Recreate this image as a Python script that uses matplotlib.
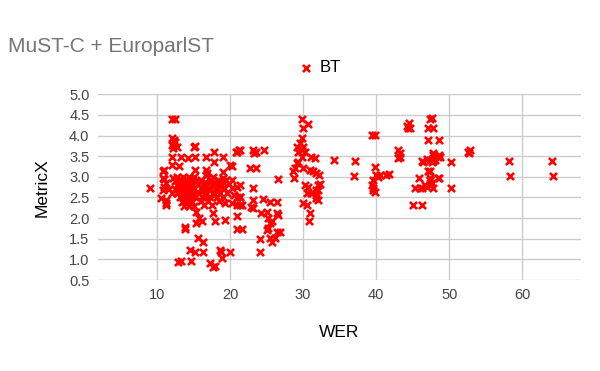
import matplotlib
matplotlib.use("Agg")
import matplotlib.pyplot as plt

plt.rcParams['font.family'] = ['Liberation Sans', 'DejaVu Sans']

# (WER, MetricX) pairs, grouped by region
left_top = [
    (12.0, 4.40), (12.5, 4.40),
    (12.0, 3.95), (12.3, 3.90), (12.1, 3.78), (12.5, 3.85), (12.7, 3.72), (12.2, 3.70),
    (15.2, 3.75), (15.1, 3.72), (17.8, 3.61), (20.8, 3.61), (21.2, 3.65),
    (12.1, 3.49), (13.3, 3.49), (14.3, 3.45), (15.2, 3.49), (16.7, 3.47), (17.8, 3.37),
    (19.0, 3.47), (20.2, 3.26), (20.0, 3.29),
    (10.9, 3.17), (12.1, 3.29), (13.0, 3.27), (15.2, 3.17), (16.7, 3.17), (16.7, 3.05),
    (17.7, 3.00), (19.0, 3.11), (19.0, 2.97), (16.9, 3.10), (20.2, 2.92),
    (10.9, 2.94), (10.9, 2.76), (9.0, 2.72),
    (10.8, 3.13), (10.8, 2.97), (12.2, 2.97), (10.8, 2.68), (11.3, 2.36), (12.0, 2.60),
    (10.6, 2.48), (11.2, 2.45), (11.3, 2.32), (11.6, 2.70), (11.2, 2.85),
]

core = [
    (12.8, 3.00), (13.6, 3.00), (14.4, 3.00), (15.0, 3.00),
    (12.5, 2.90), (13.2, 2.90), (13.9, 2.90), (14.6, 2.90), (15.3, 2.90),
    (12.7, 2.80), (13.4, 2.80), (14.1, 2.80), (14.8, 2.80),
    (12.4, 2.70), (13.0, 2.70), (13.7, 2.70), (14.4, 2.70), (15.1, 2.70),
    (12.8, 2.60), (13.5, 2.60), (14.2, 2.60), (14.9, 2.60),
    (13.1, 2.50), (13.8, 2.50), (14.5, 2.50), (15.2, 2.50),
    (13.4, 2.40), (14.1, 2.40), (14.8, 2.40),
    (13.7, 2.30), (14.4, 2.30), (15.0, 2.30),
    (13.2, 2.95), (14.0, 2.95), (14.8, 2.95),
    (13.0, 2.85), (13.8, 2.85), (14.5, 2.85),
    (13.3, 2.75), (14.0, 2.75), (14.7, 2.75),
    (13.1, 2.65), (13.9, 2.65), (14.6, 2.65),
    (13.5, 2.55), (14.2, 2.55), (14.9, 2.55),
    (13.8, 2.45), (14.5, 2.45),
    (16.0, 2.92), (17.2, 2.92), (18.4, 2.92), (19.5, 2.92),
    (15.6, 2.82), (16.5, 2.82), (17.6, 2.82), (18.8, 2.82), (19.9, 2.82),
    (16.0, 2.72), (17.0, 2.72), (18.1, 2.72), (19.2, 2.72), (20.2, 2.72),
    (15.8, 2.62), (16.7, 2.62), (17.6, 2.62), (18.6, 2.62), (19.6, 2.62),
    (16.2, 2.52), (17.2, 2.52), (18.2, 2.52), (19.0, 2.52),
    (16.0, 2.42), (17.0, 2.42), (18.5, 2.42),
    (16.5, 2.33), (17.5, 2.33),
    (16.6, 2.87), (17.8, 2.87), (19.0, 2.87),
    (16.4, 2.77), (17.5, 2.77), (18.6, 2.77),
    (16.3, 2.67), (17.3, 2.67), (18.3, 2.67),
    (16.6, 2.57), (17.8, 2.57),
]

left_low = [
    (20.9, 2.76), (20.6, 2.56), (20.9, 2.52), (21.3, 2.52), (20.2, 2.36), (21.3, 2.32),
    (20.9, 2.32), (21.6, 2.32), (19.3, 2.37),
    (15.4, 2.16), (15.8, 2.00), (17.7, 2.12), (17.9, 1.92), (19.3, 1.96), (20.9, 2.04),
    (15.4, 1.88), (16.1, 1.92), (13.8, 1.79), (13.8, 1.73),
    (15.6, 1.51), (16.3, 1.43), (14.5, 1.23), (15.2, 1.19), (16.3, 1.19),
    (12.9, 0.95), (13.3, 0.96), (14.7, 0.97), (17.2, 0.91), (17.7, 0.81), (18.0, 0.84),
    (18.8, 1.19), (18.9, 1.03), (20.0, 1.19), (18.6, 1.23),
    (20.9, 1.73), (21.6, 1.73),
]

middle = [
    (20.9, 3.61), (21.4, 3.65), (23.2, 3.65), (23.6, 3.61), (23.3, 3.57), (24.7, 3.65),
    (22.7, 3.21), (23.5, 3.21), (26.6, 2.94), (21.3, 2.80), (23.1, 2.74),
    (21.3, 2.50), (23.2, 2.44), (22.9, 2.28), (24.5, 2.46), (25.4, 2.38), (26.4, 2.38),
    (23.1, 2.25), (24.3, 2.12), (25.0, 2.16), (26.4, 2.12), (26.6, 2.08),
    (25.2, 2.00), (25.4, 1.88), (25.7, 1.92), (25.2, 1.76), (25.0, 1.72),
    (26.4, 1.67), (26.8, 1.67), (25.4, 1.51), (25.7, 1.43), (26.1, 1.51),
    (24.1, 1.49), (24.1, 1.19),
]

around_30 = [
    (29.8, 4.40), (30.6, 4.28), (30.0, 4.18),
    (29.8, 3.93), (29.6, 3.81), (29.1, 3.73), (30.0, 3.73), (29.3, 3.61), (29.8, 3.65),
    (30.2, 3.61), (29.8, 3.49), (31.1, 3.49), (31.6, 3.45),
    (29.3, 3.37), (29.1, 3.33), (28.9, 3.21), (28.6, 3.13), (28.8, 2.97), (30.0, 3.21),
    (30.9, 3.17), (31.4, 3.13), (31.8, 3.09), (32.2, 3.05),
    (30.2, 2.80), (30.7, 2.76), (32.1, 2.80), (32.3, 2.83),
    (31.8, 2.68), (32.1, 2.67), (30.5, 2.60), (31.1, 2.60), (31.8, 2.56),
    (32.1, 2.44), (31.8, 2.48), (30.0, 2.36), (30.5, 2.32), (30.9, 2.12), (30.8, 1.92),
    (34.2, 3.41), (37.1, 3.39), (36.9, 3.03),
]

around_40 = [
    (39.4, 4.01), (39.8, 4.01), (39.8, 3.25),
    (40.0, 3.05), (40.5, 3.05), (41.4, 3.05), (41.7, 3.06), (40.3, 3.00),
    (39.6, 2.93), (39.4, 2.80), (39.6, 2.72), (39.8, 2.64), (39.6, 2.69),
    (43.0, 3.65), (43.2, 3.57), (43.2, 3.49), (43.0, 3.45),
    (44.2, 4.22), (44.6, 4.18), (44.5, 4.30), (44.4, 4.18),
]

right = [
    (47.4, 4.40), (47.6, 4.42), (47.1, 4.18), (47.8, 4.18),
    (47.1, 3.89), (48.6, 3.89),
    (47.8, 3.57), (48.6, 3.53), (48.7, 3.49), (47.8, 3.53),
    (46.2, 3.39), (46.9, 3.43), (47.4, 3.41), (47.8, 3.39), (48.5, 3.47),
    (46.4, 3.37), (47.6, 3.37), (48.0, 3.41),
    (50.3, 3.35), (52.6, 3.61), (52.9, 3.64), (52.7, 3.57),
    (47.3, 3.14), (47.1, 3.15),
    (45.8, 2.98), (47.4, 2.98), (48.6, 2.98), (47.4, 2.93), (48.5, 2.97),
    (45.3, 2.72), (46.0, 2.72), (46.7, 2.80), (47.4, 2.80), (47.8, 2.72),
    (46.2, 2.72), (46.9, 2.76), (47.6, 2.84), (47.3, 2.92),
    (50.3, 2.72), (45.0, 2.32), (46.3, 2.32),
    (58.2, 3.39), (58.3, 3.02), (64.1, 3.39), (64.2, 3.02),
]

points = left_top + core + left_low + middle + around_30 + around_40 + right
wer = [p[0] for p in points]
metricx = [p[1] for p in points]

x_ticks = [10, 20, 30, 40, 50, 60]
y_ticks = [0.5, 1.0, 1.5, 2.0, 2.5, 3.0, 3.5, 4.0, 4.5, 5.0]

fig = plt.figure(figsize=(6, 3.71), dpi=100)
ax = fig.add_axes([0.163, 0.245, 0.805, 0.501])

ax.scatter(wer, metricx, marker='x', s=26, linewidths=1.9, color='#ff0000', label='BT', zorder=3)

ax.set_xlim(1.9, 68.0)
ax.set_ylim(0.5, 5.0)
ax.set_xticks(x_ticks)
ax.set_yticks(y_ticks)
ax.set_yticklabels([f'{v:.1f}' for v in y_ticks])
ax.grid(True, color='#cccccc', linewidth=1)
ax.set_axisbelow(True)
for s in ax.spines.values():
    s.set_visible(False)
ax.tick_params(length=0, labelsize=10.5, labelcolor='#444444', pad=6)

ax.set_xlabel('WER', fontsize=12.5, color='#000000', labelpad=16)
ax.set_ylabel('MetricX', fontsize=12.5, color='#000000', labelpad=14)

fig.text(8 / 600, 1 - 47 / 371, 'MuST-C + EuroparlST', fontsize=15, color='#757575', va='center')
fig.legend(loc='center', bbox_to_anchor=(317 / 600, 1 - 68 / 371), frameon=False,
           fontsize=12, handletextpad=0.1, handlelength=1.5, borderpad=0)

fig.savefig('out.png', dpi=100)
